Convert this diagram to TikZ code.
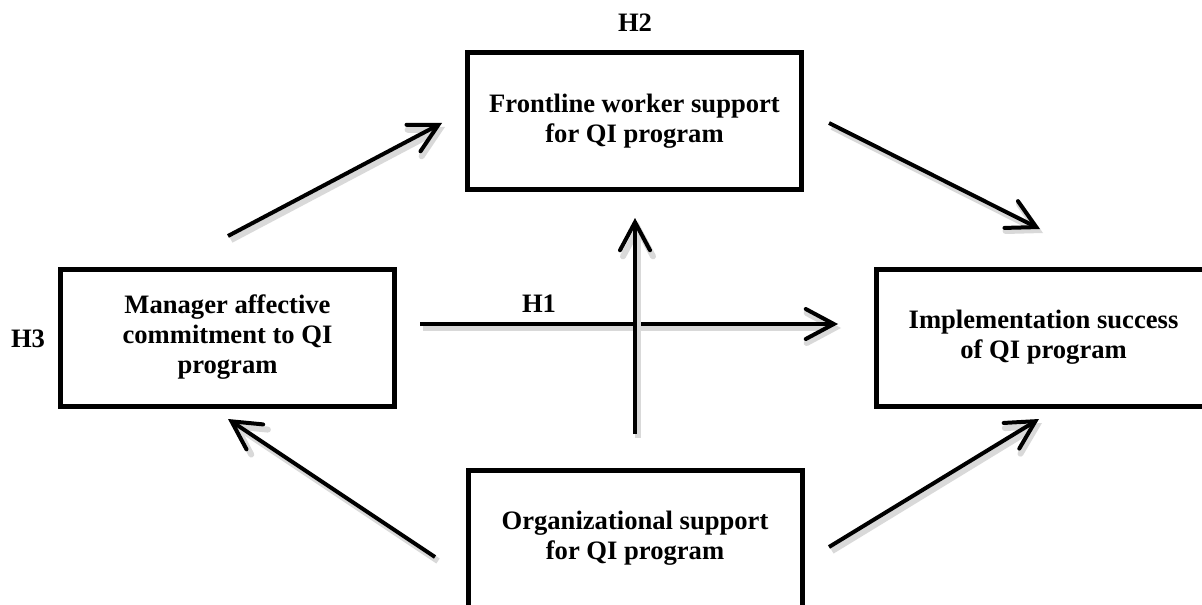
\documentclass[tikz,border=0pt]{standalone}
\usepackage{fontspec}
\setmainfont{Liberation Serif}
\usetikzlibrary{arrows.meta}
\newcommand{\qifont}{\fontsize{13.3}{15}\selectfont\bfseries}
\tikzset{
  qibox/.style={draw, line width=2.5pt, minimum width=167pt, minimum height=68.5pt,
    align=center, font=\qifont, inner sep=0pt},
  hlabel/.style={font=\qifont},
  qiarrow/.style={line width=2pt, -{Straight Barb[length=14pt,width=15pt,line cap=round]},
    preaction={draw=black!15, line width=3pt, transform canvas={shift={(1.5pt,-2pt)}}}}
}

\begin{document}
\begin{tikzpicture}[x=0.5pt,y=-0.5pt]
  \useasboundingbox (0,0) rectangle (1202,604);

  % the four constructs
  \node[qibox] (front) at (634.5,121.3) {Frontline worker support\\for QI program};
  \node[qibox] (manager) at (227.5,337.5) {Manager affective\\commitment to QI\\program};
  \node[qibox] (success) at (1043.5,337.5) {Implementation success\\of QI program};
  \node[qibox] (orgsup) at (635,538.5) {Organizational support\\for QI program};

  % hypotheses
  \node[hlabel] (htwo) at (635,23) {H2};
  \node[hlabel] (hthree) at (28,339) {H3};
  \node[hlabel] (hone) at (539,304) {H1};

  % arrow ends
  \coordinate (mf0) at (228,236);
  \coordinate (mf1) at (442,123);
  \coordinate (fs0) at (829,123);
  \coordinate (fs1) at (1040,229);
  \coordinate (ms0) at (420,324);
  \coordinate (ms1) at (838,324);
  \coordinate (of0) at (635,434);
  \coordinate (of1) at (635,218);
  \coordinate (om0) at (435,557);
  \coordinate (om1) at (228,419);
  \coordinate (os0) at (829,547);
  \coordinate (os1) at (1039,419);

  \draw[qiarrow] (mf0) -- (mf1);
  \draw[qiarrow] (fs0) -- (fs1);
  \draw[qiarrow] (ms0) -- (ms1);
  \draw[qiarrow] (of0) -- (of1);
  \draw[qiarrow] (om0) -- (om1);
  \draw[qiarrow] (os0) -- (os1);
\end{tikzpicture}
\end{document}
